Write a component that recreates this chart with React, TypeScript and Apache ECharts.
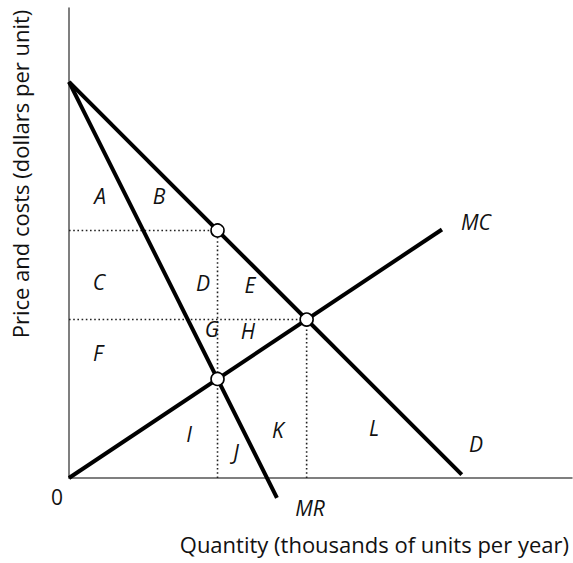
import React, { useEffect, useRef } from "react";
import * as echarts from "echarts";

// Quantity / price endpoints of the curves (data units)
const demandQ = [0, 11.9];
const demandP = [12, 0.1];
const mrQ = [0, 6.3];
const mrP = [12, -0.6];
const mcQ = [0, 11.3];
const mcP = [0, 7.53];

// Key points: monopoly price on demand, MR=MC, competitive equilibrium
const monoQ = 4.5;
const monoP = 7.5;
const mcAtMonoP = 3;
const compQ = 7.2;
const compP = 4.8;

// Area labels [Q, P, text]
const areaLabels: [number, number, string][] = [
  [0.94, 8.55, "A"],
  [2.73, 8.55, "B"],
  [0.91, 5.94, "C"],
  [4.06, 5.91, "D"],
  [5.48, 5.85, "E"],
  [0.88, 3.79, "F"],
  [4.33, 4.52, "G"],
  [5.42, 4.45, "H"],
  [3.64, 1.33, "I"],
  [5.06, 0.79, "J"],
  [6.33, 1.45, "K"],
  [9.24, 1.52, "L"],
];
const curveLabels: [number, number, string][] = [
  [12.33, 7.76, "MC"],
  [12.33, 1.03, "D"],
  [7.3, -0.91, "MR"],
];
const originLabel: [number, number, string] = [-0.36, -0.58, "0"];

const X_MAX = 15.24;
const Y_MAX = 14.24;
const FONT = "Open Sans";

export default function App() {
  const ref = useRef<HTMLDivElement>(null);
  useEffect(() => {
    if (!ref.current) return;
    const chart = echarts.init(ref.current, null, { renderer: "svg" });
    const solid = (q: number[], p: number[]) => ({
      type: "line",
      data: q.map((v, i) => [v, p[i]]),
      symbol: "none",
      clip: false,
      lineStyle: { color: "#000", width: 4, cap: "butt" },
      z: 3,
    });
    const dotted = (pts: number[][]) => ({
      type: "line",
      data: pts,
      symbol: "none",
      clip: false,
      lineStyle: { color: "#222", width: 1.6, type: [1.6, 2.6] },
      z: 2,
    });
    const titles = [
      {
        type: "text",
        right: 4,
        top: 533,
        style: {
          text: "Quantity (thousands of units per year)",
          font: `22px "${FONT}"`,
          fill: "#111",
        },
      },
      {
        type: "text",
        x: 20,
        y: 174,
        rotation: Math.PI / 2,
        style: {
          text: "Price and costs (dollars per unit)",
          font: `22px "${FONT}"`,
          fill: "#111",
          align: "center",
          verticalAlign: "middle",
        },
      },
    ];
    chart.setOption({
      animation: false,
      grid: { left: 69, right: 1, top: 8, bottom: 85 },
      xAxis: {
        type: "value",
        min: 0,
        max: X_MAX,
        axisLine: { show: true, lineStyle: { color: "#555", width: 1.5 } },
        axisTick: { show: false },
        axisLabel: { show: false },
        splitLine: { show: false },
      },
      yAxis: {
        type: "value",
        min: 0,
        max: Y_MAX,
        axisLine: { show: true, lineStyle: { color: "#555", width: 1.5 } },
        axisTick: { show: false },
        axisLabel: { show: false },
        splitLine: { show: false },
      },
      series: [
        dotted([[0, monoP], [monoQ, monoP]]),
        dotted([[monoQ, 0], [monoQ, monoP]]),
        dotted([[0, compP], [compQ, compP]]),
        dotted([[compQ, 0], [compQ, compP]]),
        solid(demandQ, demandP),
        solid(mrQ, mrP),
        solid(mcQ, mcP),
        {
          type: "scatter",
          data: [[monoQ, monoP], [monoQ, mcAtMonoP], [compQ, compP]],
          symbol: "circle",
          symbolSize: 13,
          itemStyle: { color: "#fff", borderColor: "#000", borderWidth: 1.6, opacity: 1 },
          z: 5,
        },
      ],
      graphic: titles,
    });
    const labelTexts = [...areaLabels, ...curveLabels, originLabel].map((d) => {
      const [px, py] = chart.convertToPixel({ gridIndex: 0 }, [d[0], d[1]]) as number[];
      return {
        type: "text",
        x: px,
        y: py,
        z: 10,
        style: {
          text: d[2],
          font: `${d[2] === "0" ? "normal" : "italic"} 21px "${FONT}"`,
          fill: "#111",
          align: "center",
          verticalAlign: "middle",
        },
      };
    });
    chart.setOption({ graphic: [...titles, ...labelTexts] });
    return () => chart.dispose();
  }, []);
  return (
    <div
      ref={ref}
      style={{ position: "absolute", left: 0, top: 0, width: 573, height: 563 }}
    />
  );
}
